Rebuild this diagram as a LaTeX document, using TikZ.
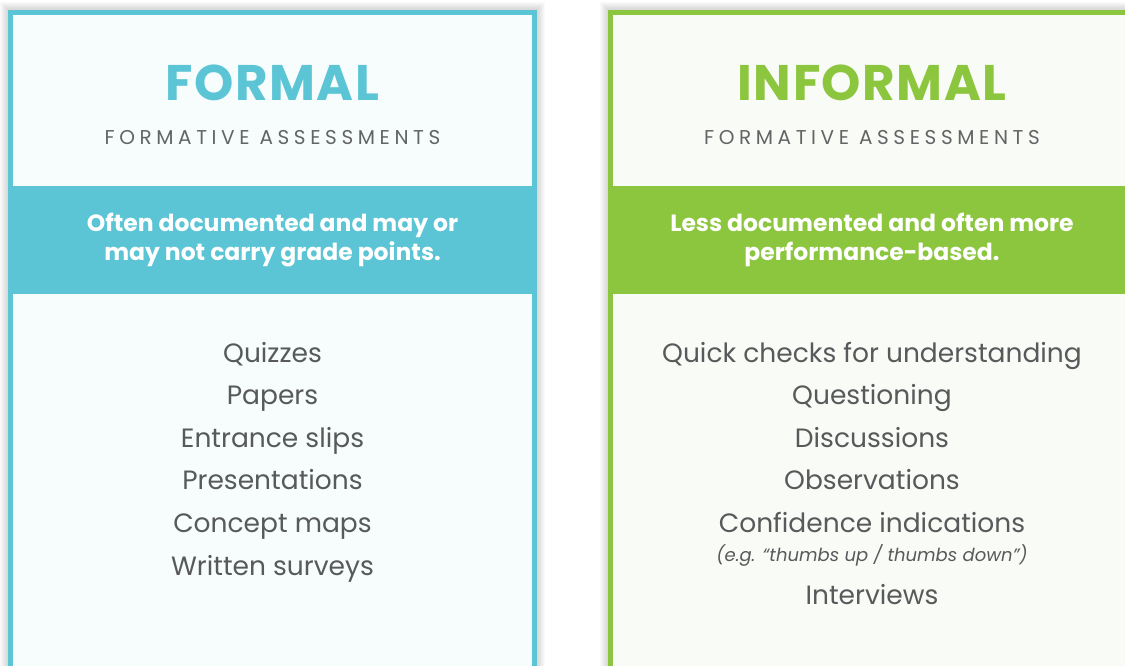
\documentclass[tikz,border=0pt]{standalone}
\usepackage{fontspec}
\setmainfont{Poppins}
\definecolor{formalblue}{HTML}{5BC5D5}
\definecolor{informalgreen}{HTML}{8CC63F}
\definecolor{paleblue}{HTML}{F7FCFD}
\definecolor{palegreen}{HTML}{F9FBF6}
\definecolor{textgray}{HTML}{58595B}
\definecolor{subgray}{HTML}{636466}

\begin{document}
\begin{tikzpicture}[x=1pt,y=-1pt]
        \tikzstyle{title} = [anchor=base,font=\fontsize{50}{54}\selectfont\bfseries\addfontfeatures{LetterSpace=3}]
        \tikzstyle{subtitle} = [anchor=base,text=subgray,font=\fontsize{20}{24}\selectfont\addfontfeatures{LetterSpace=23}]
        \tikzstyle{band} = [align=center,text=white,font=\fontsize{23.5}{29}\selectfont\bfseries]
        \tikzstyle{item} = [anchor=base,text=textgray,font=\fontsize{26.5}{30}\selectfont]
        \tikzstyle{note} = [anchor=base,text=textgray,font=\fontsize{18}{20}\selectfont\itshape]

        \useasboundingbox (0,0) rectangle (1125,665);
        \clip (0,0) rectangle (1125,665);

        % soft shadows behind the two panels
        \foreach \s in {1,...,8} {
            \fill[black,opacity=0.02] (8-\s,10-\s) rectangle (537+\s,700);
            \fill[black,opacity=0.02] (608-\s,10-\s) rectangle (1160,700);
        }

        % panels
        \draw[formalblue,line width=5pt,fill=paleblue] (10.5,12.5) rectangle (534.5,720);
        \fill[formalblue] (13,186) rectangle (532,294);
        \draw[informalgreen,line width=5pt,fill=palegreen] (610.5,12.5) rectangle (1150,720);
        \fill[informalgreen] (613,186) rectangle (1150,294);

        % formal
        \node[title,text=formalblue] (ftitle) at (272.5,100) {FORMAL};
        \node[subtitle] (fsub) at (272.5,144) {FORMATIVE ASSESSMENTS};
        \node[band] (fband) at (272.5,240) {Often documented and may or\\may not carry grade points.};
        \foreach \t [count=\i] in {Quizzes,Papers,Entrance slips,Presentations,Concept maps,Written surveys}
            \node[item] (f\i) at (272.5,{362+42.6*(\i-1)}) {\t};

        % informal
        \node[title,text=informalgreen] (ititle) at (872,100) {INFORMAL};
        \node[subtitle] (isub) at (872,144) {FORMATIVE ASSESSMENTS};
        \node[band] (iband) at (872,240) {Less documented and often more\\performance-based.};
        \foreach \t [count=\i] in {Quick checks for understanding,Questioning,Discussions,Observations,Confidence indications}
            \node[item] (i\i) at (872,{362+42.6*(\i-1)}) {\t};
        \node[note] (inote) at (872,561) {(e.g. “thumbs up / thumbs down”)};
        \node[item] (i6) at (872,604) {Interviews};
    \end{tikzpicture}
\end{document}
